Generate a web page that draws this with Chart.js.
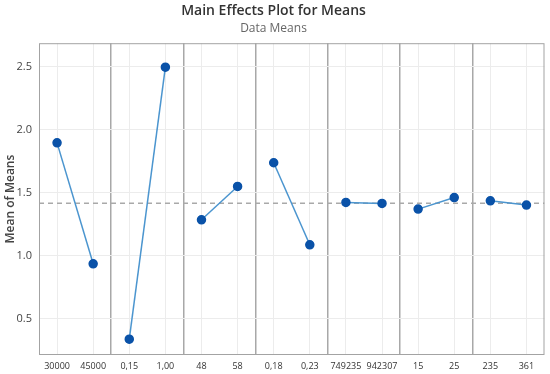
<!DOCTYPE html>
<html>
<head>
<meta charset="utf-8">
<script src="https://cdn.jsdelivr.net/npm/chart.js@4/dist/chart.umd.min.js"></script>
<style>
  html, body { margin: 0; padding: 0; background: #fff; }
  #wrap { width: 550px; height: 374px; }
</style>
</head>
<body>
<div id="wrap"><canvas id="mainEffects"></canvas></div>
<script>
// Level labels, two per factor, in panel order
const levels = ["30000", "45000", "0,15", "1,00", "48", "58", "0,18", "0,23",
                "749235", "942307", "15", "25", "235", "361"];
// Mean of means at each level
const means = [1.894, 0.934, 0.336, 2.495, 1.283, 1.548, 1.736, 1.085,
               1.421, 1.413, 1.368, 1.460, 1.434, 1.400];
const yTicks = [0.5, 1.0, 1.5, 2.0, 2.5];

const nFactors = levels.length / 2;
const grandMean = means.reduce((a, b) => a + b, 0) / means.length;
const levelPos = levels.map((_, i) => Math.floor(i / 2) + (i % 2 ? 0.75 : 0.25));

const datasets = [];
for (let f = 0; f < nFactors; f++) {
  datasets.push({
    data: [
      { x: levelPos[2 * f], y: means[2 * f] },
      { x: levelPos[2 * f + 1], y: means[2 * f + 1] },
    ],
    showLine: true,
    borderColor: "#4b95cf",
    borderWidth: 1.5,
    pointBackgroundColor: "#0a52a8",
    pointBorderColor: "#0a52a8",
    pointRadius: 4,
    order: 1,
  });
}
// reference line at the grand mean
datasets.push({
  data: [{ x: 0, y: grandMean }, { x: nFactors, y: grandMean }],
  showLine: true,
  borderColor: "#a9a9a9",
  borderWidth: 1.5,
  borderDash: [5, 4],
  pointRadius: 0,
  order: 2,
});

const framePlugin = {
  id: "frame",
  afterDraw(chart) {
    const { ctx, chartArea: a } = chart;
    ctx.save();
    ctx.strokeStyle = "#a3a3a3";
    ctx.lineWidth = 1;
    ctx.strokeRect(a.left + 0.5, a.top + 0.5, a.right - a.left - 1, a.bottom - a.top - 1);
    ctx.restore();
  },
};

const ctx = document.getElementById("mainEffects").getContext("2d");
new Chart(ctx, {
  type: "scatter",
  data: { datasets },
  plugins: [framePlugin],
  options: {
    responsive: true,
    maintainAspectRatio: false,
    animation: false,
    layout: { padding: { right: 3 } },
    plugins: {
      legend: { display: false },
      tooltip: { enabled: false },
      title: {
        display: true,
        text: "Main Effects Plot for Means",
        color: "#333",
        font: { family: "Open Sans", size: 14, weight: "600" },
        padding: { top: 3, bottom: 0 },
      },
      subtitle: {
        display: true,
        text: "Data Means",
        color: "#666",
        font: { family: "Open Sans", size: 12 },
        padding: { top: 2, bottom: 7 },
      },
    },
    scales: {
      x: {
        type: "linear",
        min: 0,
        max: nFactors,
        afterBuildTicks: (axis) => {
          axis.ticks = levelPos.map((v) => ({ value: v }));
        },
        afterFit: (axis) => { axis.height = 19; },
        ticks: {
          autoSkip: false,
          maxRotation: 0,
          padding: 6,
          color: "#333",
          font: { family: "Open Sans", size: 9 },
          callback: (v, i) => levels[i],
        },
        grid: { color: "#ececec", lineWidth: 1, drawTicks: false },
        border: { display: false },
      },
      x2: {
        type: "linear",
        position: "bottom",
        min: 0,
        max: nFactors,
        afterBuildTicks: (axis) => {
          const t = [];
          for (let f = 1; f < nFactors; f++) t.push({ value: f });
          axis.ticks = t;
        },
        afterFit: (axis) => { axis.height = 0; },
        ticks: { display: false },
        grid: { color: "#a8a8a8", lineWidth: 1.5, drawTicks: false },
        border: { display: false },
      },
      y: {
        min: 0.21,
        max: 2.685,
        afterBuildTicks: (axis) => {
          axis.ticks = yTicks.map((v) => ({ value: v }));
        },
        afterFit: (axis) => { axis.width = 39; },
        ticks: {
          padding: 7,
          color: "#444",
          font: { family: "Open Sans", size: 11 },
          callback: (v) => v.toFixed(1),
        },
        grid: { color: "#ececec", lineWidth: 1, drawTicks: false },
        border: { display: false },
        title: {
          display: true,
          text: "Mean of Means",
          color: "#444",
          font: { family: "Open Sans", size: 12, weight: "600" },
          padding: { top: 3, bottom: 0 },
        },
      },
    },
  },
});
</script>
</body>
</html>
